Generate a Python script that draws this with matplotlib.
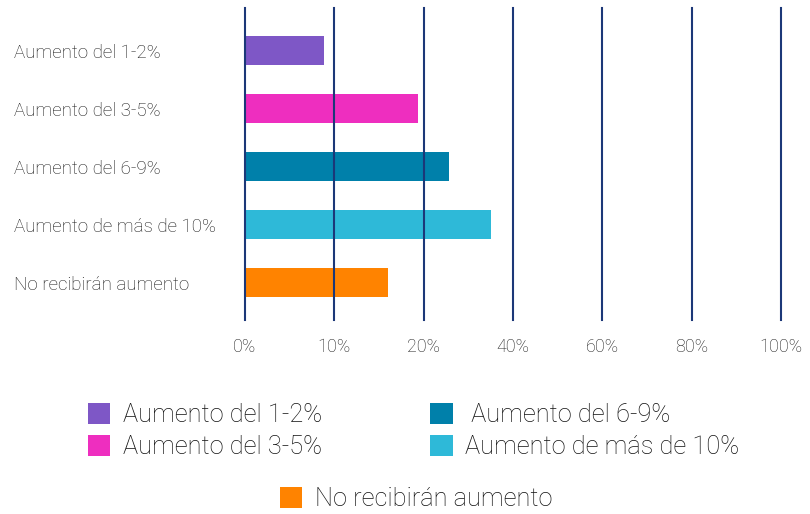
import numpy as np
import matplotlib
matplotlib.use("Agg")
import matplotlib.pyplot as plt
from matplotlib.patches import Patch

categories = ["Aumento del 1-2%", "Aumento del 3-5%", "Aumento del 6-9%",
              "Aumento de más de 10%", "No recibirán aumento"]
values = [8.8, 19.4, 25.7, 35.0, 16.0]
colors = ["#7e57c6", "#ee2ebf", "#0080aa", "#2eb9d8", "#ff8300"]
tick_values = [0, 10, 20, 40, 60, 80, 100]
tick_labels = ["0%", "10%", "20%", "40%", "60%", "80%", "100%"]
legend_labels = ["Aumento del 1-2%", "Aumento del 3-5%", " Aumento del 6-9%",
                 "Aumento de más de 10%", "No recibirán aumento"]

plt.rcParams['font.family'] = ['Roboto', 'DejaVu Sans']

idx = np.arange(len(tick_values), dtype=float)
def fwd(x):
    return np.interp(x, tick_values, idx)
def inv(x):
    return np.interp(x, idx, tick_values)

fig = plt.figure(figsize=(8.1, 5.14), dpi=100)
ax = fig.add_axes([245/810, 1-320/514, (781-245)/810, (320-8)/514])
ax.set_xscale('function', functions=(fwd, inv))
y = np.arange(len(categories))
ax.barh(y, values, height=0.5, color=colors, zorder=1)
ax.set_xlim(0, 100)
ax.set_ylim(4.64, -0.74)
for t in tick_values:
    ax.axvline(t, color="#1c3878", lw=1.5, zorder=2, clip_on=False)
for s in ax.spines.values():
    s.set_visible(False)
ax.set_xticks(tick_values)
ax.set_xticklabels(tick_labels, fontsize=13, color="#1e1e1e", fontweight='light')
ax.xaxis.set_minor_locator(matplotlib.ticker.NullLocator())
ax.set_yticks(y)
ax.set_yticklabels(categories, fontsize=13.5, color="#1a1a1a", ha='left', fontweight='light')
ax.tick_params(axis='y', length=0, pad=166)
ax.tick_params(axis='x', length=0, pad=13)

handles = [Patch(facecolor=c, edgecolor='none') for c in colors]
leg1 = fig.legend(handles[:4], legend_labels[:4], ncol=2, frameon=False,
                  loc='upper left', bbox_to_anchor=(88/810, 1-403/514),
                  handlelength=0.88, handleheight=0.88,
                  handletextpad=0.5, columnspacing=4.25, labelspacing=0.3,
                  borderaxespad=0, borderpad=0,
                  prop={'weight': 'light', 'size': 18.3})
for t in leg1.get_texts():
    t.set_color("#111111")
leg2 = fig.legend(handles[4:], legend_labels[4:], frameon=False,
                  loc='upper left', bbox_to_anchor=(280/810, 1-487/514),
                  handlelength=0.88, handleheight=0.88,
                  handletextpad=0.5, borderaxespad=0, borderpad=0,
                  prop={'weight': 'light', 'size': 18.3})
for t in leg2.get_texts():
    t.set_color("#111111")
fig.savefig("out.png", dpi=100)
